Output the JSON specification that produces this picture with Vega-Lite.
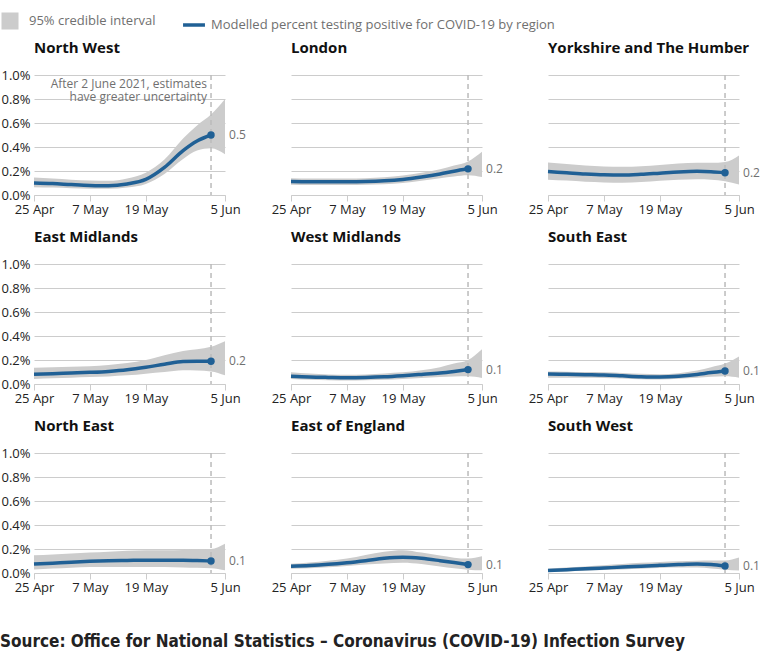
{
  "$schema": "https://vega.github.io/schema/vega-lite/v6.json",
  "padding": {"left": 0, "top": 12, "right": 5, "bottom": 5},
  "background": "white",
  "bounds": "flush",
  "title": {"text": "Source: Office for National Statistics – Coronavirus (COVID-19) Infection Survey", "orient": "bottom", "anchor": "start", "frame": "group", "dx": -34, "font": "DejaVu Sans Condensed, sans-serif", "fontSize": 17, "fontWeight": "bold", "color": "#222222", "offset": 40},
  "data": {"values": [
    {"region":"North West","date":"2021-04-25","est":0.100,"lo":0.065,"hi":0.145},
    {"region":"North West","date":"2021-04-29","est":0.095,"lo":0.062,"hi":0.138},
    {"region":"North West","date":"2021-05-03","est":0.087,"lo":0.057,"hi":0.128},
    {"region":"North West","date":"2021-05-07","est":0.080,"lo":0.053,"hi":0.120},
    {"region":"North West","date":"2021-05-11","est":0.077,"lo":0.052,"hi":0.118},
    {"region":"North West","date":"2021-05-15","est":0.092,"lo":0.063,"hi":0.138},
    {"region":"North West","date":"2021-05-19","est":0.130,"lo":0.092,"hi":0.185},
    {"region":"North West","date":"2021-05-23","est":0.230,"lo":0.175,"hi":0.295},
    {"region":"North West","date":"2021-05-27","est":0.370,"lo":0.300,"hi":0.470},
    {"region":"North West","date":"2021-05-30","est":0.450,"lo":0.370,"hi":0.580},
    {"region":"North West","date":"2021-06-02","est":0.500,"lo":0.390,"hi":0.670,"note":"After 2 June 2021, estimates\nhave greater uncertainty"},
    {"region":"North West","date":"2021-06-05","est":null,"lo":0.340,"hi":0.800},
    {"region":"London","date":"2021-04-25","est":0.112,"lo":0.085,"hi":0.140},
    {"region":"London","date":"2021-04-29","est":0.110,"lo":0.083,"hi":0.138},
    {"region":"London","date":"2021-05-03","est":0.110,"lo":0.083,"hi":0.138},
    {"region":"London","date":"2021-05-07","est":0.110,"lo":0.083,"hi":0.138},
    {"region":"London","date":"2021-05-11","est":0.112,"lo":0.085,"hi":0.140},
    {"region":"London","date":"2021-05-15","est":0.118,"lo":0.090,"hi":0.148},
    {"region":"London","date":"2021-05-19","est":0.130,"lo":0.100,"hi":0.162},
    {"region":"London","date":"2021-05-23","est":0.150,"lo":0.118,"hi":0.185},
    {"region":"London","date":"2021-05-27","est":0.175,"lo":0.140,"hi":0.215},
    {"region":"London","date":"2021-05-30","est":0.198,"lo":0.155,"hi":0.245},
    {"region":"London","date":"2021-06-02","est":0.218,"lo":0.165,"hi":0.280},
    {"region":"London","date":"2021-06-05","est":null,"lo":0.150,"hi":0.360},
    {"region":"Yorkshire and The Humber","date":"2021-04-25","est":0.195,"lo":0.127,"hi":0.270},
    {"region":"Yorkshire and The Humber","date":"2021-04-29","est":0.185,"lo":0.120,"hi":0.258},
    {"region":"Yorkshire and The Humber","date":"2021-05-03","est":0.175,"lo":0.110,"hi":0.245},
    {"region":"Yorkshire and The Humber","date":"2021-05-07","est":0.168,"lo":0.105,"hi":0.238},
    {"region":"Yorkshire and The Humber","date":"2021-05-11","est":0.166,"lo":0.103,"hi":0.235},
    {"region":"Yorkshire and The Humber","date":"2021-05-15","est":0.172,"lo":0.108,"hi":0.240},
    {"region":"Yorkshire and The Humber","date":"2021-05-19","est":0.182,"lo":0.118,"hi":0.250},
    {"region":"Yorkshire and The Humber","date":"2021-05-23","est":0.192,"lo":0.128,"hi":0.262},
    {"region":"Yorkshire and The Humber","date":"2021-05-27","est":0.197,"lo":0.132,"hi":0.268},
    {"region":"Yorkshire and The Humber","date":"2021-05-30","est":0.194,"lo":0.128,"hi":0.268},
    {"region":"Yorkshire and The Humber","date":"2021-06-02","est":0.186,"lo":0.115,"hi":0.275},
    {"region":"Yorkshire and The Humber","date":"2021-06-05","est":null,"lo":0.087,"hi":0.330},
    {"region":"East Midlands","date":"2021-04-25","est":0.081,"lo":0.042,"hi":0.136},
    {"region":"East Midlands","date":"2021-04-29","est":0.086,"lo":0.047,"hi":0.140},
    {"region":"East Midlands","date":"2021-05-03","est":0.091,"lo":0.052,"hi":0.143},
    {"region":"East Midlands","date":"2021-05-07","est":0.097,"lo":0.058,"hi":0.147},
    {"region":"East Midlands","date":"2021-05-11","est":0.105,"lo":0.063,"hi":0.158},
    {"region":"East Midlands","date":"2021-05-15","est":0.118,"lo":0.072,"hi":0.175},
    {"region":"East Midlands","date":"2021-05-19","est":0.139,"lo":0.086,"hi":0.200},
    {"region":"East Midlands","date":"2021-05-23","est":0.165,"lo":0.100,"hi":0.240},
    {"region":"East Midlands","date":"2021-05-27","est":0.188,"lo":0.114,"hi":0.275},
    {"region":"East Midlands","date":"2021-05-30","est":0.190,"lo":0.112,"hi":0.290},
    {"region":"East Midlands","date":"2021-06-02","est":0.189,"lo":0.105,"hi":0.310},
    {"region":"East Midlands","date":"2021-06-05","est":null,"lo":0.072,"hi":0.356},
    {"region":"West Midlands","date":"2021-04-25","est":0.064,"lo":0.042,"hi":0.097},
    {"region":"West Midlands","date":"2021-04-29","est":0.058,"lo":0.036,"hi":0.087},
    {"region":"West Midlands","date":"2021-05-03","est":0.055,"lo":0.032,"hi":0.080},
    {"region":"West Midlands","date":"2021-05-07","est":0.053,"lo":0.030,"hi":0.078},
    {"region":"West Midlands","date":"2021-05-11","est":0.055,"lo":0.032,"hi":0.080},
    {"region":"West Midlands","date":"2021-05-15","est":0.060,"lo":0.036,"hi":0.088},
    {"region":"West Midlands","date":"2021-05-19","est":0.069,"lo":0.042,"hi":0.097},
    {"region":"West Midlands","date":"2021-05-23","est":0.080,"lo":0.050,"hi":0.115},
    {"region":"West Midlands","date":"2021-05-27","est":0.092,"lo":0.058,"hi":0.140},
    {"region":"West Midlands","date":"2021-05-30","est":0.105,"lo":0.062,"hi":0.170},
    {"region":"West Midlands","date":"2021-06-02","est":0.120,"lo":0.064,"hi":0.200},
    {"region":"West Midlands","date":"2021-06-05","est":null,"lo":0.050,"hi":0.290},
    {"region":"South East","date":"2021-04-25","est":0.083,"lo":0.053,"hi":0.105},
    {"region":"South East","date":"2021-04-29","est":0.081,"lo":0.053,"hi":0.103},
    {"region":"South East","date":"2021-05-03","est":0.078,"lo":0.052,"hi":0.100},
    {"region":"South East","date":"2021-05-07","est":0.075,"lo":0.050,"hi":0.098},
    {"region":"South East","date":"2021-05-11","est":0.068,"lo":0.046,"hi":0.092},
    {"region":"South East","date":"2021-05-15","est":0.061,"lo":0.040,"hi":0.085},
    {"region":"South East","date":"2021-05-19","est":0.058,"lo":0.038,"hi":0.082},
    {"region":"South East","date":"2021-05-23","est":0.064,"lo":0.043,"hi":0.090},
    {"region":"South East","date":"2021-05-27","est":0.079,"lo":0.052,"hi":0.112},
    {"region":"South East","date":"2021-05-30","est":0.095,"lo":0.060,"hi":0.140},
    {"region":"South East","date":"2021-06-02","est":0.108,"lo":0.064,"hi":0.170},
    {"region":"South East","date":"2021-06-05","est":null,"lo":0.053,"hi":0.230},
    {"region":"North East","date":"2021-04-25","est":0.075,"lo":0.030,"hi":0.147},
    {"region":"North East","date":"2021-04-29","est":0.082,"lo":0.037,"hi":0.155},
    {"region":"North East","date":"2021-05-03","est":0.090,"lo":0.044,"hi":0.163},
    {"region":"North East","date":"2021-05-07","est":0.097,"lo":0.050,"hi":0.170},
    {"region":"North East","date":"2021-05-11","est":0.102,"lo":0.051,"hi":0.178},
    {"region":"North East","date":"2021-05-15","est":0.105,"lo":0.051,"hi":0.185},
    {"region":"North East","date":"2021-05-19","est":0.106,"lo":0.050,"hi":0.190},
    {"region":"North East","date":"2021-05-23","est":0.106,"lo":0.049,"hi":0.190},
    {"region":"North East","date":"2021-05-27","est":0.106,"lo":0.046,"hi":0.192},
    {"region":"North East","date":"2021-05-30","est":0.104,"lo":0.043,"hi":0.196},
    {"region":"North East","date":"2021-06-02","est":0.100,"lo":0.040,"hi":0.200},
    {"region":"North East","date":"2021-06-05","est":null,"lo":0.022,"hi":0.244},
    {"region":"East of England","date":"2021-04-25","est":0.056,"lo":0.036,"hi":0.078},
    {"region":"East of England","date":"2021-04-29","est":0.062,"lo":0.040,"hi":0.088},
    {"region":"East of England","date":"2021-05-03","est":0.072,"lo":0.048,"hi":0.103},
    {"region":"East of England","date":"2021-05-07","est":0.086,"lo":0.058,"hi":0.120},
    {"region":"East of England","date":"2021-05-11","est":0.103,"lo":0.070,"hi":0.150},
    {"region":"East of England","date":"2021-05-15","est":0.122,"lo":0.080,"hi":0.178},
    {"region":"East of England","date":"2021-05-19","est":0.131,"lo":0.086,"hi":0.190},
    {"region":"East of England","date":"2021-05-23","est":0.122,"lo":0.075,"hi":0.170},
    {"region":"East of England","date":"2021-05-27","est":0.103,"lo":0.055,"hi":0.145},
    {"region":"East of England","date":"2021-05-30","est":0.087,"lo":0.040,"hi":0.128},
    {"region":"East of England","date":"2021-06-02","est":0.070,"lo":0.028,"hi":0.120},
    {"region":"East of England","date":"2021-06-05","est":null,"lo":0.022,"hi":0.139},
    {"region":"South West","date":"2021-04-25","est":0.020,"lo":0.008,"hi":0.036},
    {"region":"South West","date":"2021-04-29","est":0.027,"lo":0.013,"hi":0.045},
    {"region":"South West","date":"2021-05-03","est":0.035,"lo":0.018,"hi":0.055},
    {"region":"South West","date":"2021-05-07","est":0.042,"lo":0.024,"hi":0.065},
    {"region":"South West","date":"2021-05-11","est":0.049,"lo":0.030,"hi":0.075},
    {"region":"South West","date":"2021-05-15","est":0.057,"lo":0.036,"hi":0.085},
    {"region":"South West","date":"2021-05-19","est":0.064,"lo":0.042,"hi":0.092},
    {"region":"South West","date":"2021-05-23","est":0.070,"lo":0.045,"hi":0.098},
    {"region":"South West","date":"2021-05-27","est":0.074,"lo":0.045,"hi":0.102},
    {"region":"South West","date":"2021-05-30","est":0.070,"lo":0.038,"hi":0.104},
    {"region":"South West","date":"2021-06-02","est":0.058,"lo":0.028,"hi":0.105},
    {"region":"South West","date":"2021-06-05","est":null,"lo":0.020,"hi":0.130}
  ]},
  "columns": 3,
  "spacing": {"row": 69, "column": 66},
  "facet": {
    "field": "region", "type": "nominal", "title": null,
    "sort": ["North West", "London", "Yorkshire and The Humber", "East Midlands", "West Midlands", "South East", "North East", "East of England", "South West"],
    "header": {"labelFont": "Open Sans", "labelFontSize": 15, "labelFontWeight": "bold", "labelColor": "#111111", "labelAnchor": "start", "labelAlign": "left", "labelPadding": 18}
  },
  "spec": {
    "width": 191,
    "height": 120,
    "encoding": {
      "x": {"field": "date", "type": "temporal",
        "scale": {"type": "utc", "domain": [{"year": 2021, "month": 4, "date": 25, "utc": true}, {"year": 2021, "month": 6, "date": 5, "utc": true}]},
        "axis": {"title": null, "grid": false, "format": "%-d %b",
          "values": [{"year": 2021, "month": 4, "date": 25, "utc": true}, {"year": 2021, "month": 5, "date": 7, "utc": true}, {"year": 2021, "month": 5, "date": 19, "utc": true}, {"year": 2021, "month": 6, "date": 5, "utc": true}],
          "domain": true, "domainColor": "#cccccc", "tickColor": "#cccccc", "tickSize": 6, "labelPadding": 2,
          "labelFont": "Open Sans", "labelFontSize": 13, "labelColor": "#222222", "labelFlush": false, "labelOverlap": false}
      }
    },
    "layer": [
      {
        "mark": {"type": "area", "interpolate": "monotone", "opacity": 1},
        "encoding": {
          "y": {"field": "lo", "type": "quantitative",
            "scale": {"domain": [0, 1], "nice": false},
            "axis": {"title": null, "tickCount": 5, "labelExpr": "format(datum.value, '.1f') + '%'", "labelOverlap": false,
              "domain": false, "ticks": false, "grid": true, "gridColor": "#cccccc", "labelPadding": 4,
              "labelFont": "Open Sans", "labelFontSize": 13, "labelColor": "#222222"}},
          "y2": {"field": "hi"},
          "fill": {"datum": "95% credible interval", "type": "nominal",
            "scale": {"domain": ["95% credible interval"], "range": ["#cccccc"]},
            "legend": {"orient": "none", "legendX": -33, "legendY": -63, "direction": "horizontal", "title": null, "symbolType": "square", "symbolSize": 290, "symbolOpacity": 1, "symbolStrokeWidth": 0,
              "labelFont": "Open Sans", "labelFontSize": 13, "labelColor": "#707070", "labelOffset": 10, "labelLimit": 500}}
        }
      },
      {
        "transform": [{"filter": {"field": "date", "equal": {"year": 2021, "month": 6, "date": 2, "utc": true}}}],
        "mark": {"type": "rule", "color": "#bbbbbb", "strokeDash": [5, 4], "strokeWidth": 1.5},
        "encoding": {}
      },
      {
        "mark": {"type": "line", "interpolate": "monotone", "strokeWidth": 3.5},
        "encoding": {
          "y": {"field": "est", "type": "quantitative",
            "axis": {"title": null, "tickCount": 5, "labelExpr": "format(datum.value, '.1f') + '%'", "labelOverlap": false,
              "domain": false, "ticks": false, "grid": true, "gridColor": "#cccccc", "labelPadding": 4,
              "labelFont": "Open Sans", "labelFontSize": 13, "labelColor": "#222222"}},
          "stroke": {"datum": "Modelled percent testing positive for COVID-19 by region", "type": "nominal",
            "scale": {"domain": ["Modelled percent testing positive for COVID-19 by region"], "range": ["#206095"]},
            "legend": {"orient": "none", "legendX": 147, "legendY": -63, "direction": "horizontal", "title": null, "symbolType": "stroke", "symbolSize": 480, "symbolStrokeWidth": 3.5,
              "labelFont": "Open Sans", "labelFontSize": 13, "labelColor": "#707070", "labelOffset": 4, "labelLimit": 500}}
        }
      },
      {
        "transform": [{"filter": {"field": "date", "equal": {"year": 2021, "month": 6, "date": 2, "utc": true}}}],
        "mark": {"type": "point", "filled": true, "size": 55, "opacity": 1, "color": "#206095"},
        "encoding": {"y": {"field": "est", "type": "quantitative"}}
      },
      {
        "transform": [{"filter": {"field": "date", "equal": {"year": 2021, "month": 6, "date": 2, "utc": true}}}],
        "mark": {"type": "text", "align": "left", "baseline": "middle", "dx": 18, "font": "Open Sans", "fontSize": 12, "color": "#707070"},
        "encoding": {"y": {"field": "est", "type": "quantitative"}, "text": {"field": "est", "type": "quantitative", "format": ".1f"}}
      },
      {
        "transform": [{"filter": "isValid(datum.note)"}],
        "mark": {"type": "text", "align": "right", "baseline": "top", "dx": -4, "dy": 4, "font": "Open Sans", "fontSize": 12, "color": "#707070", "lineBreak": "\n", "lineHeight": 13},
        "encoding": {"y": {"datum": 1, "type": "quantitative"}, "text": {"field": "note"}}
      }
    ]
  },
  "resolve": {"axis": {"x": "independent"}},
  "config": {"view": {"stroke": null}, "font": "Open Sans"}
}
